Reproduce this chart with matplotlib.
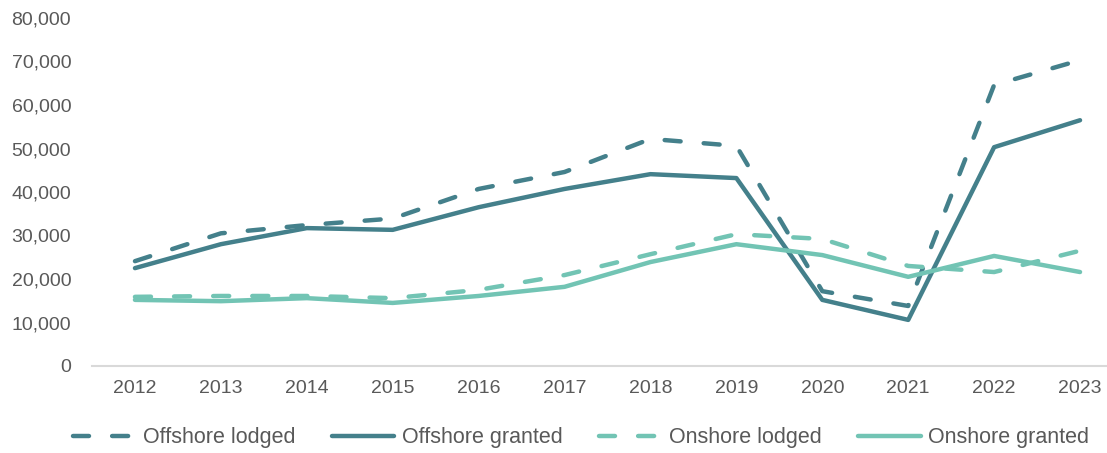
import matplotlib.pyplot as plt
from matplotlib.ticker import FuncFormatter

years = ['2012', '2013', '2014', '2015', '2016', '2017', '2018', '2019', '2020', '2021', '2022', '2023']
offshore_lodged = [24100, 30500, 32400, 33900, 40700, 44600, 52200, 50600, 17200, 13800, 64600, 70300]
offshore_granted = [22500, 28000, 31700, 31300, 36500, 40700, 44100, 43200, 15200, 10600, 50300, 56500]
onshore_lodged = [15900, 16100, 16100, 15600, 17500, 20900, 25700, 30300, 29200, 23000, 21600, 26500]
onshore_granted = [15200, 14900, 15600, 14500, 16100, 18200, 23900, 28000, 25500, 20500, 25300, 21600]

dark = '#44808B'
light = '#72C4B4'
grey = '#595959'

plt.rcParams['font.family'] = ['Liberation Sans', 'DejaVu Sans']

fig = plt.figure(figsize=(11.07, 4.53), dpi=100)
ax = fig.add_axes([92 / 1107, 87 / 453, 1031 / 1107, 348 / 453])

x = range(len(years))
lw = 3.2
dash = (3.6, 5.2)
ax.plot(x, offshore_lodged, color=dark, lw=lw, dashes=dash, dash_capstyle='round', label='Offshore lodged')
ax.plot(x, offshore_granted, color=dark, lw=lw, solid_capstyle='round', label='Offshore granted')
ax.plot(x, onshore_lodged, color=light, lw=lw, dashes=dash, dash_capstyle='round', label='Onshore lodged')
ax.plot(x, onshore_granted, color=light, lw=lw, solid_capstyle='round', label='Onshore granted')

ax.set_xlim(-0.5, len(years) - 0.5)
ax.set_ylim(0, 80000)
ax.set_yticks(range(0, 80001, 10000))
ax.yaxis.set_major_formatter(FuncFormatter(lambda v, p: f'{int(v):,}'))
ax.set_xticks(list(x))
ax.set_xticklabels(years)

for s in ['top', 'right', 'left']:
    ax.spines[s].set_visible(False)
ax.spines['bottom'].set_color('#D9D9D9')
ax.spines['bottom'].set_linewidth(1.5)
ax.tick_params(axis='both', length=0, labelsize=14, colors=grey)
ax.tick_params(axis='x', pad=10)
ax.tick_params(axis='y', pad=15)

leg = fig.legend(loc='center', bbox_to_anchor=(581 / 1107, 1 - 438 / 453), ncol=4, frameon=False,
                 fontsize=15.5, handlelength=2.9, handletextpad=0.35, columnspacing=1.7)
for t in leg.get_texts():
    t.set_color(grey)

fig.savefig('out.png', dpi=100)
